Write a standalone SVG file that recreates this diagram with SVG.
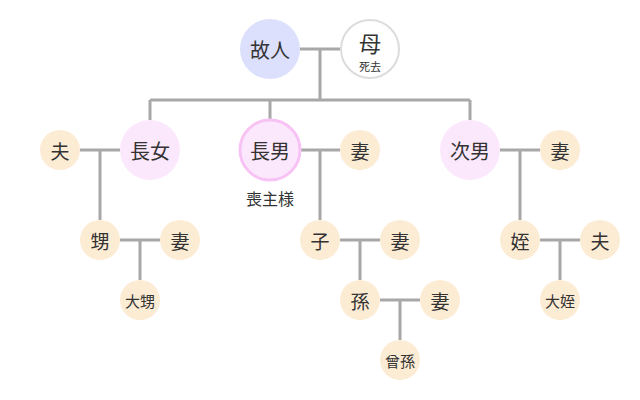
<svg xmlns="http://www.w3.org/2000/svg" width="640" height="400" viewBox="0 0 640 400">
<style>
text{font-family:"Noto Sans CJK JP","Noto Sans CJK SC",sans-serif;fill:#333;text-anchor:middle;dominant-baseline:central}
.big{font-size:20px}
.sm{font-size:19px}
.xs{font-size:15px}
.child{fill:#fce8fc}
.rel{fill:#fdecd4}
#connectors path{fill:none;stroke:#a8a8a8;stroke-width:3}
</style>
<rect width="640" height="400" fill="#fff"/>
<g id="connectors">
<path d="M300 49H340M320 49V100M150 100H470M150 100V120M270 100V120M470 100V120"/>
<path d="M80 150H120M100 150V220"/>
<path d="M300 150H340M320 150V220"/>
<path d="M500 150H540M520 150V220"/>
<path d="M120 240H160M140 240V280"/>
<path d="M340 240H380M360 240V280"/>
<path d="M380 300H420M400 300V340"/>
<path d="M540 240H580M560 240V280"/>
</g>
<g id="kojin"><circle cx="270" cy="49" r="30" fill="#dde0fc"/><text class="big" x="270" y="49">故人</text></g>
<g id="haha"><circle cx="370" cy="49" r="29" fill="#fff" stroke="#dcdcdc" stroke-width="2"/><text x="370" y="42" style="font-size:22px">母</text><text x="370" y="66" style="font-size:11px">死去</text></g>
<g id="chojo"><circle class="child" cx="150" cy="150" r="30"/><text class="big" x="150" y="150">長女</text></g>
<g id="otto1"><circle class="rel" cx="60" cy="150" r="20"/><text class="sm" x="60" y="150">夫</text></g>
<g id="chonan"><circle cx="270" cy="150" r="30" fill="#fce8fc" stroke="#f8c2f4" stroke-width="3"/><text class="big" x="270" y="150">長男</text><text x="270" y="198" style="font-size:16px">喪主様</text></g>
<g id="tsuma1"><circle class="rel" cx="360" cy="150" r="20"/><text class="sm" x="360" y="150">妻</text></g>
<g id="jinan"><circle class="child" cx="470" cy="150" r="30"/><text class="big" x="470" y="150">次男</text></g>
<g id="tsuma2"><circle class="rel" cx="560" cy="150" r="20"/><text class="sm" x="560" y="150">妻</text></g>
<g id="oi"><circle class="rel" cx="100" cy="240" r="20"/><text class="sm" x="100" y="240">甥</text></g>
<g id="tsuma3"><circle class="rel" cx="180" cy="240" r="20"/><text class="sm" x="180" y="240">妻</text></g>
<g id="daioi"><circle class="rel" cx="140" cy="300" r="20"/><text class="xs" x="140" y="300">大甥</text></g>
<g id="ko"><circle class="rel" cx="320" cy="240" r="20"/><text class="sm" x="320" y="240">子</text></g>
<g id="tsuma4"><circle class="rel" cx="400" cy="240" r="20"/><text class="sm" x="400" y="240">妻</text></g>
<g id="mago"><circle class="rel" cx="360" cy="300" r="20"/><text class="sm" x="360" y="300">孫</text></g>
<g id="tsuma5"><circle class="rel" cx="440" cy="300" r="20"/><text class="sm" x="440" y="300">妻</text></g>
<g id="himago"><circle class="rel" cx="400" cy="360" r="20"/><text class="xs" x="400" y="360">曾孫</text></g>
<g id="mei"><circle class="rel" cx="520" cy="240" r="20"/><text class="sm" x="520" y="240">姪</text></g>
<g id="otto2"><circle class="rel" cx="600" cy="240" r="20"/><text class="sm" x="600" y="240">夫</text></g>
<g id="daimei"><circle class="rel" cx="560" cy="300" r="20"/><text class="xs" x="560" y="300">大姪</text></g>
</svg>
